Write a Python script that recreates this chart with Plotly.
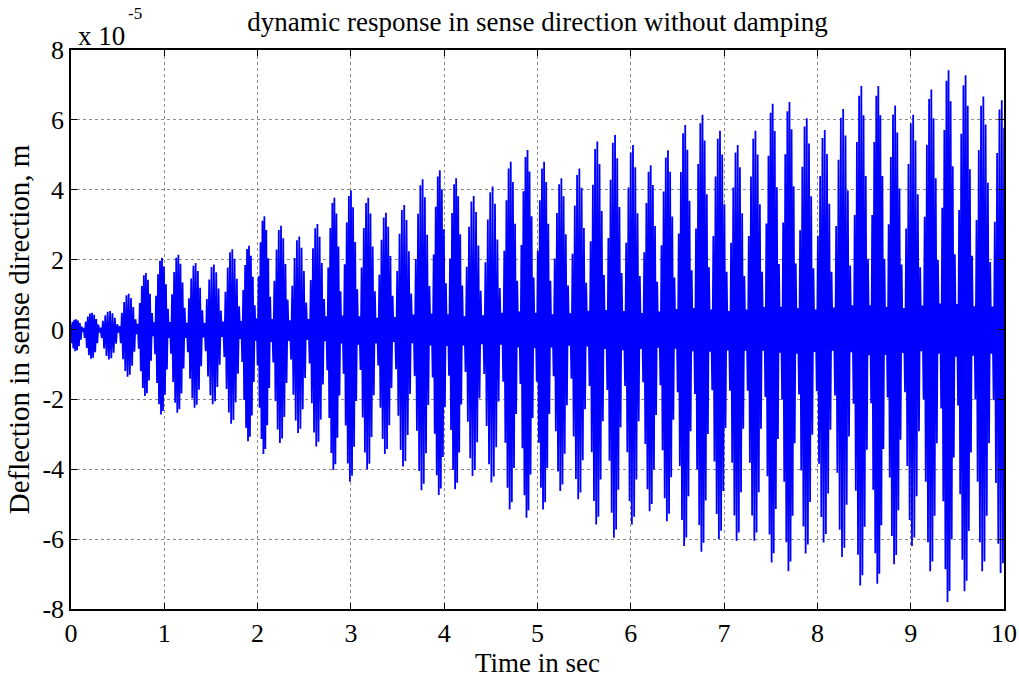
import plotly.graph_objects as go

# ---- data (deflection in units of 1e-5 m) ----
burst_t = [0.05, 0.21, 0.41, 0.62, 0.80, 0.97, 1.14, 1.33, 1.52, 1.73,
           1.91, 2.06, 2.24, 2.44, 2.64, 2.82, 2.99, 3.18, 3.37, 3.56,
           3.77, 3.95, 4.12, 4.30, 4.52, 4.71, 4.89, 5.06, 5.25, 5.44,
           5.64, 5.82, 6.02, 6.21, 6.39, 6.58, 6.76, 6.95, 7.14, 7.33,
           7.52, 7.69, 7.88, 8.07, 8.27, 8.47, 8.65, 8.82, 9.02, 9.22,
           9.40, 9.58, 9.77, 9.97]
burst_top = [0.29, 0.48, 0.53, 1.02, 1.62, 2.05, 2.14, 1.90, 1.86, 2.30,
             2.40, 3.24, 2.97, 2.66, 3.02, 3.77, 3.98, 3.77, 3.34, 3.56,
             4.30, 4.56, 4.33, 3.82, 4.09, 4.80, 5.14, 4.80, 4.33, 4.61,
             5.38, 5.57, 5.28, 4.70, 5.13, 5.85, 6.15, 5.69, 5.28, 5.69,
             6.46, 6.51, 6.05, 5.71, 6.31, 6.97, 6.97, 6.41, 6.15, 6.87,
             7.42, 7.28, 6.67, 6.56]
burst_bot = [-0.62, -0.84, -0.86, -1.35, -1.90, -2.43, -2.38, -2.24, -2.14, -2.70,
             -3.20, -3.56, -3.25, -2.96, -3.35, -4.02, -4.36, -4.00, -3.56, -3.92,
             -4.60, -4.74, -4.57, -4.19, -4.38, -5.15, -5.39, -5.15, -4.62, -4.86,
             -5.58, -5.96, -5.58, -5.20, -5.49, -6.20, -6.36, -6.00, -6.05, -6.05,
             -6.67, -6.92, -6.41, -6.10, -6.51, -7.33, -7.28, -6.72, -6.20, -6.92,
             -7.80, -7.49, -6.92, -6.97]
# relative height of the successive swings inside one beat
stroke_profile = [0.10, 0.29, 0.47, 0.63, 0.77, 0.88, 0.96, 1.00,
                  1.00, 0.96, 0.88, 0.77, 0.63, 0.47, 0.29, 0.10]

x_ticks = [0, 1, 2, 3, 4, 5, 6, 7, 8, 9, 10]
y_ticks = [-8, -6, -4, -2, 0, 2, 4, 6, 8]
y_tick_text = ["-8", "-6", "-4", "-2", "0", "2", "4", "6", "8"]

# ---- assemble the trace from the read values ----
t_pts, y_pts = [], []
n = len(burst_t)
m = len(stroke_profile)
for k in range(n):
    if k == 0:
        lo = burst_t[0] - (burst_t[1] - burst_t[0]) / 2
    else:
        lo = (burst_t[k - 1] + burst_t[k]) / 2
    if k == n - 1:
        hi = burst_t[k] + (burst_t[k] - lo)
    else:
        hi = (burst_t[k] + burst_t[k + 1]) / 2
    for j, f in enumerate(stroke_profile):
        t_pts.append(lo + (j + 0.5) * (hi - lo) / m)
        y_pts.append(f * (burst_top[k] if j % 2 == 0 else burst_bot[k]))

FONT = "Liberation Serif, Times New Roman, serif"

fig = go.Figure()
fig.add_trace(go.Scatter(x=t_pts, y=y_pts, mode="lines",
                         line=dict(color="rgb(0,0,255)", width=1.8, simplify=False),
                         showlegend=False, hoverinfo="skip"))

axis_common = dict(showline=True, linecolor="black", linewidth=1.5,
                   mirror="allticks", ticks="inside", ticklen=6,
                   tickcolor="black", showgrid=True, gridcolor="#8a8a8a",
                   griddash="dot", gridwidth=1, zeroline=False, automargin=False,
                   tickfont=dict(family=FONT, size=26, color="black"))

fig.update_xaxes(range=[0, 10], tickvals=x_ticks,
                 title=dict(text="Time in sec", standoff=2,
                            font=dict(family=FONT, size=27, color="black")),
                 **axis_common)
fig.update_yaxes(range=[-8, 8], tickvals=y_ticks, ticktext=y_tick_text,
                 title=dict(text="Deflection in sense direction, m", standoff=4,
                            font=dict(family=FONT, size=29, color="black")),
                 **axis_common)

fig.update_layout(
    width=1019, height=679,
    margin=dict(l=71, r=15, t=50, b=70),
    paper_bgcolor="white", plot_bgcolor="white",
    title=dict(text="dynamic response in sense direction without damping",
               x=0.5, xref="paper", xanchor="center",
               y=1 - 22 / 679, yref="container", yanchor="middle",
               font=dict(family=FONT, size=27, color="black")),
    annotations=[
        dict(text="x 10", x=0, y=1.025, xref="paper", yref="paper",
             xanchor="left", yanchor="middle", xshift=5, showarrow=False,
             font=dict(family=FONT, size=27, color="black")),
        dict(text="-5", x=0, y=1.066, xref="paper", yref="paper",
             xanchor="left", yanchor="middle", xshift=55, showarrow=False,
             font=dict(family=FONT, size=17, color="black")),
    ],
)

fig.write_html("out.html")
